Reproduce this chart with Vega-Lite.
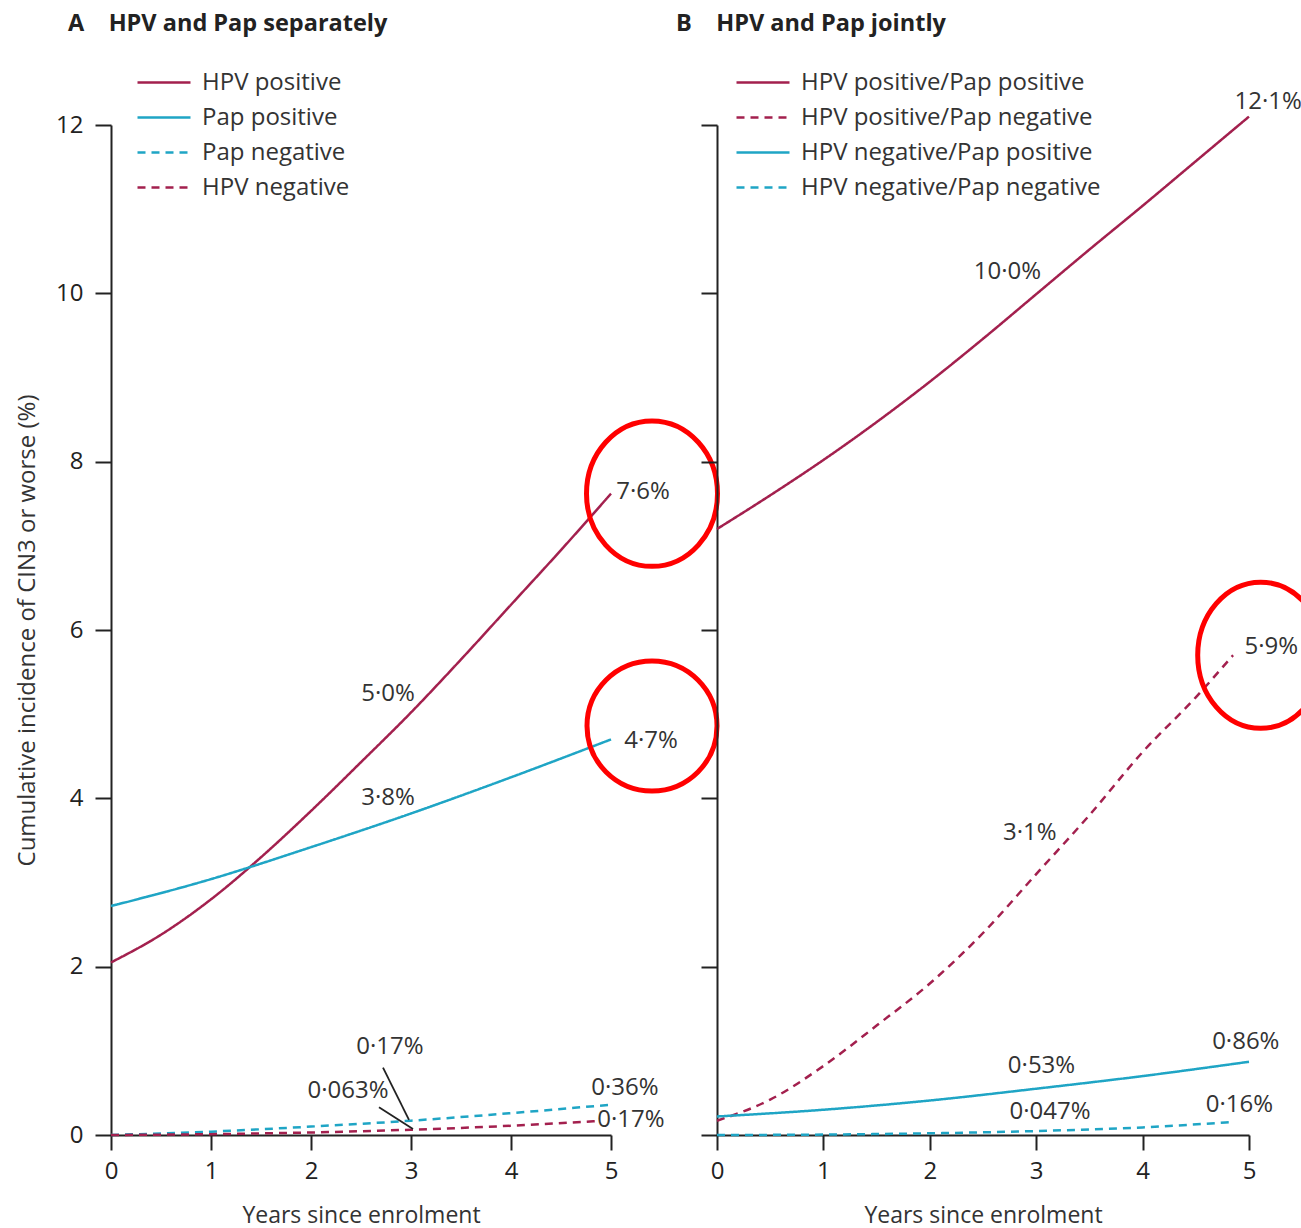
{
  "$schema": "https://vega.github.io/schema/vega-lite/v6.json",
  "background": "white",
  "padding": {"left": 15, "top": 11, "right": 0, "bottom": 2},
  "config": {
    "font": "Open Sans",
    "view": {"stroke": null},
    "axis": {"grid": false, "domainColor": "#222", "tickColor": "#222", "domainWidth": 2, "tickWidth": 2, "labelColor": "#222", "labelFontSize": 24, "labelFont": "Open Sans", "titleFont": "Open Sans", "titleFontWeight": "normal", "titleColor": "#333", "titleFontSize": 23, "format": "d", "labelFlush": false},
    "legend": {"orient": "none", "symbolType": "stroke", "symbolSize": 2809, "symbolStrokeWidth": 2.5, "labelFontSize": 24, "labelColor": "#333", "labelFont": "Open Sans", "labelOffset": 10, "rowPadding": 0, "clipHeight": 35, "title": null, "labelLimit": 500},
    "title": {"font": "Open Sans", "fontSize": 23.5, "fontWeight": "bold", "color": "#222", "anchor": "start", "frame": "group"}
  },
  "datasets": {
    "linesA": [
      {"series": "HPV positive", "t": 0, "v": 2.05}, {"series": "HPV positive", "t": 0.5, "v": 2.38}, {"series": "HPV positive", "t": 1, "v": 2.8}, {"series": "HPV positive", "t": 1.5, "v": 3.3}, {"series": "HPV positive", "t": 2, "v": 3.85}, {"series": "HPV positive", "t": 2.5, "v": 4.43}, {"series": "HPV positive", "t": 3, "v": 5.02}, {"series": "HPV positive", "t": 3.5, "v": 5.65}, {"series": "HPV positive", "t": 4, "v": 6.3}, {"series": "HPV positive", "t": 4.5, "v": 6.95}, {"series": "HPV positive", "t": 5, "v": 7.62},
      {"series": "Pap positive", "t": 0, "v": 2.72}, {"series": "Pap positive", "t": 1, "v": 3.04}, {"series": "Pap positive", "t": 2, "v": 3.42}, {"series": "Pap positive", "t": 3, "v": 3.82}, {"series": "Pap positive", "t": 4, "v": 4.25}, {"series": "Pap positive", "t": 5, "v": 4.7},
      {"series": "Pap negative", "t": 0, "v": 0}, {"series": "Pap negative", "t": 1, "v": 0.04}, {"series": "Pap negative", "t": 2, "v": 0.1}, {"series": "Pap negative", "t": 3, "v": 0.17}, {"series": "Pap negative", "t": 4, "v": 0.26}, {"series": "Pap negative", "t": 5, "v": 0.36},
      {"series": "HPV negative", "t": 0, "v": 0}, {"series": "HPV negative", "t": 1, "v": 0.01}, {"series": "HPV negative", "t": 2, "v": 0.03}, {"series": "HPV negative", "t": 3, "v": 0.063}, {"series": "HPV negative", "t": 4, "v": 0.11}, {"series": "HPV negative", "t": 4.85, "v": 0.165}
    ],
    "labelsA": [
      {"label": "7·6%", "t": 5.32, "v": 7.64},
      {"label": "4·7%", "t": 5.4, "v": 4.68},
      {"label": "5·0%", "t": 2.77, "v": 5.24},
      {"label": "3·8%", "t": 2.77, "v": 4.0},
      {"label": "0·17%", "t": 2.79, "v": 1.05},
      {"label": "0·063%", "t": 2.37, "v": 0.52},
      {"label": "0·36%", "t": 5.14, "v": 0.56},
      {"label": "0·17%", "t": 5.2, "v": 0.18}
    ],
    "leadersA": [
      {"t": 2.72, "v": 0.8, "t2": 2.98, "v2": 0.18},
      {"t": 2.68, "v": 0.33, "t2": 3.02, "v2": 0.07}
    ],
    "linesB": [
      {"series": "HPV positive/Pap positive", "t": 0, "v": 7.2}, {"series": "HPV positive/Pap positive", "t": 0.5, "v": 7.6}, {"series": "HPV positive/Pap positive", "t": 1, "v": 8.02}, {"series": "HPV positive/Pap positive", "t": 1.5, "v": 8.47}, {"series": "HPV positive/Pap positive", "t": 2, "v": 8.95}, {"series": "HPV positive/Pap positive", "t": 2.5, "v": 9.46}, {"series": "HPV positive/Pap positive", "t": 3, "v": 9.99}, {"series": "HPV positive/Pap positive", "t": 3.5, "v": 10.52}, {"series": "HPV positive/Pap positive", "t": 4, "v": 11.04}, {"series": "HPV positive/Pap positive", "t": 4.5, "v": 11.57}, {"series": "HPV positive/Pap positive", "t": 5, "v": 12.1},
      {"series": "HPV positive/Pap negative", "t": 0, "v": 0.17}, {"series": "HPV positive/Pap negative", "t": 0.5, "v": 0.42}, {"series": "HPV positive/Pap negative", "t": 1, "v": 0.82}, {"series": "HPV positive/Pap negative", "t": 1.5, "v": 1.3}, {"series": "HPV positive/Pap negative", "t": 2, "v": 1.8}, {"series": "HPV positive/Pap negative", "t": 2.5, "v": 2.4}, {"series": "HPV positive/Pap negative", "t": 3, "v": 3.1}, {"series": "HPV positive/Pap negative", "t": 3.5, "v": 3.8}, {"series": "HPV positive/Pap negative", "t": 4, "v": 4.55}, {"series": "HPV positive/Pap negative", "t": 4.5, "v": 5.2}, {"series": "HPV positive/Pap negative", "t": 4.85, "v": 5.7},
      {"series": "HPV negative/Pap positive", "t": 0, "v": 0.22}, {"series": "HPV negative/Pap positive", "t": 1, "v": 0.3}, {"series": "HPV negative/Pap positive", "t": 2, "v": 0.41}, {"series": "HPV negative/Pap positive", "t": 3, "v": 0.55}, {"series": "HPV negative/Pap positive", "t": 4, "v": 0.7}, {"series": "HPV negative/Pap positive", "t": 5, "v": 0.87},
      {"series": "HPV negative/Pap negative", "t": 0, "v": 0}, {"series": "HPV negative/Pap negative", "t": 1, "v": 0.005}, {"series": "HPV negative/Pap negative", "t": 2, "v": 0.02}, {"series": "HPV negative/Pap negative", "t": 3, "v": 0.047}, {"series": "HPV negative/Pap negative", "t": 4, "v": 0.09}, {"series": "HPV negative/Pap negative", "t": 4.85, "v": 0.155}
    ],
    "labelsB": [
      {"label": "12·1%", "t": 5.18, "v": 12.27},
      {"label": "10·0%", "t": 2.73, "v": 10.25},
      {"label": "5·9%", "t": 5.21, "v": 5.8},
      {"label": "3·1%", "t": 2.94, "v": 3.59},
      {"label": "0·86%", "t": 4.97, "v": 1.1},
      {"label": "0·53%", "t": 3.05, "v": 0.82},
      {"label": "0·047%", "t": 3.13, "v": 0.27},
      {"label": "0·16%", "t": 4.91, "v": 0.36}
    ],
    "ovalA": [{"t": 5.41, "v": 7.62}],
    "circleA": [{"t": 5.41, "v": 4.86}],
    "ovalB": [{"t": 5.11, "v": 5.7}]
  },
  "hconcat": [
    {
      "width": 500,
      "height": 1010,
      "title": {"text": "A\u00a0\u00a0\u00a0\u00a0HPV and Pap separately", "dx": -43, "offset": 30},
      "layer": [
        {
          "data": {"name": "linesA"},
          "mark": {"type": "line", "strokeWidth": 2.5, "interpolate": "monotone"},
          "encoding": {
            "x": {"field": "t", "type": "quantitative", "scale": {"domain": [0, 5], "nice": false}, "axis": {"values": [0, 1, 2, 3, 4, 5], "tickSize": 15, "labelPadding": 9, "title": "Years since enrolment", "titlePadding": 21}},
            "y": {"field": "v", "type": "quantitative", "scale": {"domain": [0, 12], "nice": false}, "axis": {"values": [0, 2, 4, 6, 8, 10, 12], "tickSize": 16, "labelPadding": 12, "title": "Cumulative incidence of CIN3 or worse (%)", "titleFontSize": 24, "titlePadding": 16}},
            "color": {"field": "series", "type": "nominal", "scale": {"domain": ["HPV positive", "Pap positive", "Pap negative", "HPV negative"], "range": ["#a3204e", "#1fa5c5", "#1fa5c5", "#a3204e"]}, "legend": {"legendX": 25, "legendY": -60}},
            "strokeDash": {"field": "series", "type": "nominal", "scale": {"domain": ["HPV positive", "Pap positive", "Pap negative", "HPV negative"], "range": [[1, 0], [1, 0], [8, 6], [8, 6]]}, "legend": {"legendX": 25, "legendY": -60}}
          }
        },
        {
          "data": {"name": "leadersA"},
          "mark": {"type": "rule", "color": "#222", "strokeWidth": 1.8},
          "encoding": {"x": {"field": "t", "type": "quantitative"}, "y": {"field": "v", "type": "quantitative"}, "x2": {"field": "t2"}, "y2": {"field": "v2"}}
        },
        {
          "data": {"name": "labelsA"},
          "mark": {"type": "text", "fontSize": 24, "color": "#333", "align": "center", "baseline": "middle"},
          "encoding": {"x": {"field": "t", "type": "quantitative"}, "y": {"field": "v", "type": "quantitative"}, "text": {"field": "label"}}
        },
        {
          "data": {"name": "ovalA"},
          "mark": {"type": "point", "shape": "M0,-1.11A1,1.11 0 1,1 0,1.11A1,1.11 0 1,1 0,-1.11Z", "size": 17161, "filled": false, "stroke": "#ff0000", "strokeWidth": 5, "opacity": 1},
          "encoding": {"x": {"field": "t", "type": "quantitative"}, "y": {"field": "v", "type": "quantitative"}}
        },
        {
          "data": {"name": "circleA"},
          "mark": {"type": "point", "shape": "circle", "size": 16900, "filled": false, "stroke": "#ff0000", "strokeWidth": 5, "opacity": 1},
          "encoding": {"x": {"field": "t", "type": "quantitative"}, "y": {"field": "v", "type": "quantitative"}}
        }
      ]
    },
    {
      "width": 532,
      "height": 1010,
      "title": {"text": "B\u00a0\u00a0\u00a0\u00a0HPV and Pap jointly", "dx": -41, "offset": 30},
      "layer": [
        {
          "data": {"name": "linesB"},
          "mark": {"type": "line", "strokeWidth": 2.5, "interpolate": "monotone"},
          "encoding": {
            "x": {"field": "t", "type": "quantitative", "scale": {"domain": [0, 5], "nice": false}, "axis": {"values": [0, 1, 2, 3, 4, 5], "tickSize": 15, "labelPadding": 9, "title": "Years since enrolment", "titlePadding": 21}},
            "y": {"field": "v", "type": "quantitative", "scale": {"domain": [0, 12], "nice": false}, "axis": {"values": [0, 2, 4, 6, 8, 10, 12], "tickSize": 16, "labels": false, "title": null}},
            "color": {"field": "series", "type": "nominal", "scale": {"domain": ["HPV positive/Pap positive", "HPV positive/Pap negative", "HPV negative/Pap positive", "HPV negative/Pap negative"], "range": ["#a3204e", "#a3204e", "#1fa5c5", "#1fa5c5"]}, "legend": {"legendX": 18, "legendY": -60}},
            "strokeDash": {"field": "series", "type": "nominal", "scale": {"domain": ["HPV positive/Pap positive", "HPV positive/Pap negative", "HPV negative/Pap positive", "HPV negative/Pap negative"], "range": [[1, 0], [8, 6], [1, 0], [8, 6]]}, "legend": {"legendX": 18, "legendY": -60}}
          }
        },
        {
          "data": {"name": "labelsB"},
          "mark": {"type": "text", "fontSize": 24, "color": "#333", "align": "center", "baseline": "middle"},
          "encoding": {"x": {"field": "t", "type": "quantitative"}, "y": {"field": "v", "type": "quantitative"}, "text": {"field": "label"}}
        },
        {
          "data": {"name": "ovalB"},
          "mark": {"type": "point", "shape": "M0,-1.16A1,1.16 0 1,1 0,1.16A1,1.16 0 1,1 0,-1.16Z", "size": 15876, "filled": false, "stroke": "#ff0000", "strokeWidth": 5, "opacity": 1},
          "encoding": {"x": {"field": "t", "type": "quantitative"}, "y": {"field": "v", "type": "quantitative"}}
        }
      ]
    }
  ],
  "spacing": 106,
  "bounds": "flush",
  "resolve": {"scale": {"x": "independent", "y": "independent", "color": "independent", "strokeDash": "independent"}, "legend": {"color": "independent", "strokeDash": "independent"}}
}
